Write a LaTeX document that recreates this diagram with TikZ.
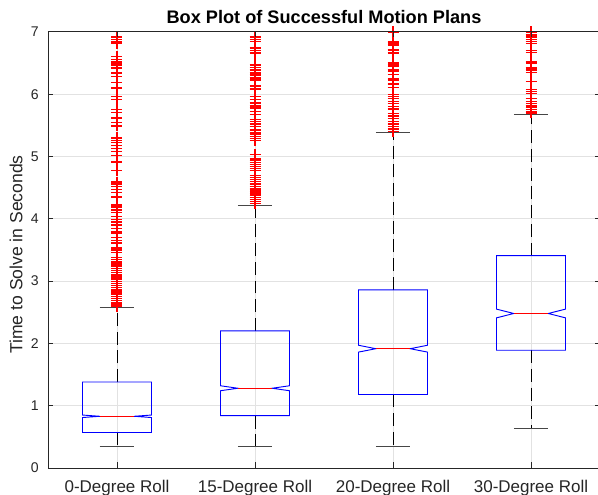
\documentclass[tikz,border=0pt]{standalone}
\usepackage{fontspec}
\setmainfont{Liberation Sans}
\usepackage{tikz}
\usetikzlibrary{calc}
\definecolor{axisgray}{RGB}{38,38,38}
\definecolor{gridgray}{RGB}{226,226,226}
\definecolor{capgray}{RGB}{70,70,70}
\tikzstyle{gridline}=[draw=gridgray,line width=0.8pt]
\tikzstyle{frame}=[draw=axisgray,line width=0.8pt]
\tikzstyle{boxline}=[draw=blue,line width=0.8pt,line join=miter]
\tikzstyle{medline}=[draw=red,line width=0.8pt]
\tikzstyle{whisker}=[draw=black,line width=0.8pt,dash pattern=on 11pt off 5pt]
\tikzstyle{whiskcap}=[draw=capgray,line width=0.8pt]
\tikzstyle{outlier}=[draw=red,line width=1.1pt]
\tikzstyle{ticklabel}=[font=\fontsize{12}{14}\selectfont,text=axisgray,inner sep=0pt]
\tikzset{grouplabel/.style={font=\fontsize{14.5}{17}\selectfont,text=axisgray,inner sep=0pt,anchor=base}}
\newcommand{\plus}[2]{\draw[outlier] (#1,#2) ++(-0.165cm,0) -- ++(0.33cm,0) (#1,#2) ++(0,-0.165cm) -- ++(0,0.33cm);}

\begin{document}
\begin{tikzpicture}[x=4.14cm,y=1.869cm]
 \useasboundingbox (0.1522,-0.4334) rectangle (4.4855,7.5120);

 %grid
 \foreach \v in {1,...,6}
   \draw[gridline] (0.5,\v) -- (4.5,\v);
 \foreach \x in {1,...,4}
   \draw[gridline] (\x,0) -- (\x,7);

 %whiskers and boxes
 \foreach \x/\qa/\med/\qb/\nlo/\nhi/\wlo/\whi in {1/0.57/0.83/1.38/0.81/0.85/0.35/2.57,
          2/0.84/1.28/2.20/1.24/1.32/0.34/4.22,
          3/1.18/1.915/2.86/1.86/1.97/0.35/5.38,
          4/1.89/2.48/3.41/2.41/2.55/0.63/5.68}
 {
   \draw[whisker] (\x,\qb) -- (\x,\whi);
   \draw[whisker] (\x,\qa) -- (\x,\wlo);
   \draw[whiskcap] (\x-0.125,\whi) -- (\x+0.125,\whi);
   \draw[whiskcap] (\x-0.125,\wlo) -- (\x+0.125,\wlo);
   \draw[boxline] (\x-0.25,\qa) -- (\x+0.25,\qa) -- (\x+0.25,\nlo) -- (\x+0.125,\med)
        -- (\x+0.25,\nhi) -- (\x+0.25,\qb) -- (\x-0.25,\qb) -- (\x-0.25,\nhi)
        -- (\x-0.125,\med) -- (\x-0.25,\nlo) -- cycle;
   \draw[medline] (\x-0.125,\med) -- (\x+0.125,\med);
 }

 %outliers 0-Degree Roll
 \foreach \v in {2.60,2.63,...,3.40}
   {\plus{1}{\v}}
 \foreach \v in {3.46,3.50,3.53,3.61,3.65,3.70,3.76,3.79,3.84,3.90,3.95,3.99,4.04,4.10,4.14,4.19,4.22,
          4.35,4.42,4.47,4.52,4.56,4.59,4.77,4.91,5.02,5.08,5.13,5.18,5.22,5.26,5.29,5.31,
          5.49,5.55,5.62,5.71,5.75,5.92,5.96,6.10,6.19,6.28,6.34,6.42,6.47,6.50,6.53,6.56,6.60,
          6.82,6.84,6.88,6.92}
   {\plus{1}{\v}}

 %outliers 15-Degree Roll
 \foreach \v in {4.25,4.28,...,4.55}
   {\plus{2}{\v}}
 \foreach \v in {4.57,4.60,...,4.71}
   {\plus{2}{\v}}
 \foreach \v in {4.78,4.81,...,4.98}
   {\plus{2}{\v}}
 \foreach \v in {5.03,5.26,5.29,5.32,5.36,5.39,5.42,5.43,5.48,5.52,5.56,5.59,5.67,5.72,5.78,5.81,
          5.86,5.91,5.96,6.07,6.09,6.13,6.23,6.26,6.31,6.34,6.39,6.43,6.47,6.66,6.70,6.74,
          6.84,6.88,6.92}
   {\plus{2}{\v}}

 %outliers 20-Degree Roll
 \foreach \v in {5.40,5.43,5.45,5.48,5.51,5.53,5.56,5.61,5.64,5.66,5.69,5.75,5.77,5.80,5.85,5.88,
          5.93,5.96,5.99,6.11,6.15,6.17,6.23,6.25,6.32,6.36,6.39,6.44,6.47,6.50,6.66,6.71,
          6.79,6.82,6.84,7.00}
   {\plus{3}{\v}}

 %outliers 30-Degree Roll
 \foreach \v in {5.70,5.72,5.75,5.79,5.81,5.85,5.88,5.93,6.01,6.04,6.08,6.20,6.35,6.39,6.42,
          6.50,6.52,6.67,6.70,6.81,6.85,6.88,6.92,6.95,7.00}
   {\plus{4}{\v}}

 %axes
 \draw[frame] (0.5,0) -- (4.5,0) -- (4.5,7) -- (0.5,7) -- cycle;
 \foreach \v in {0,...,7}
 {
   \draw[frame] (0.5,\v) -- ++(0.165cm,0);
   \draw[frame] (4.5,\v) -- ++(-0.165cm,0);
   \node[ticklabel,anchor=east] (ytick\v) at (0.435,\v) {\v};
 }
 \foreach \x/\name/\label in {1/roll0/0, 2/roll15/15, 3/roll20/20, 4/roll30/30}
 {
   \draw[frame] (\x,0) -- ++(0,0.165cm);
   \draw[frame] (\x,7) -- ++(0,-0.165cm);
   \node[grouplabel] (\name) at (\x,-0.396) {\label-Degree Roll};
 }

 \node[font=\fontsize{15}{18}\selectfont,text=axisgray,rotate=90,inner sep=0pt] (ylab) at (0.268,3.427) {Time to Solve in Seconds};
 \node[font=\bfseries\fontsize{15.5}{18}\selectfont,inner sep=0pt,anchor=base] (title) at (2.5,7.13) {Box Plot of Successful Motion Plans};

\end{tikzpicture}
\end{document}
